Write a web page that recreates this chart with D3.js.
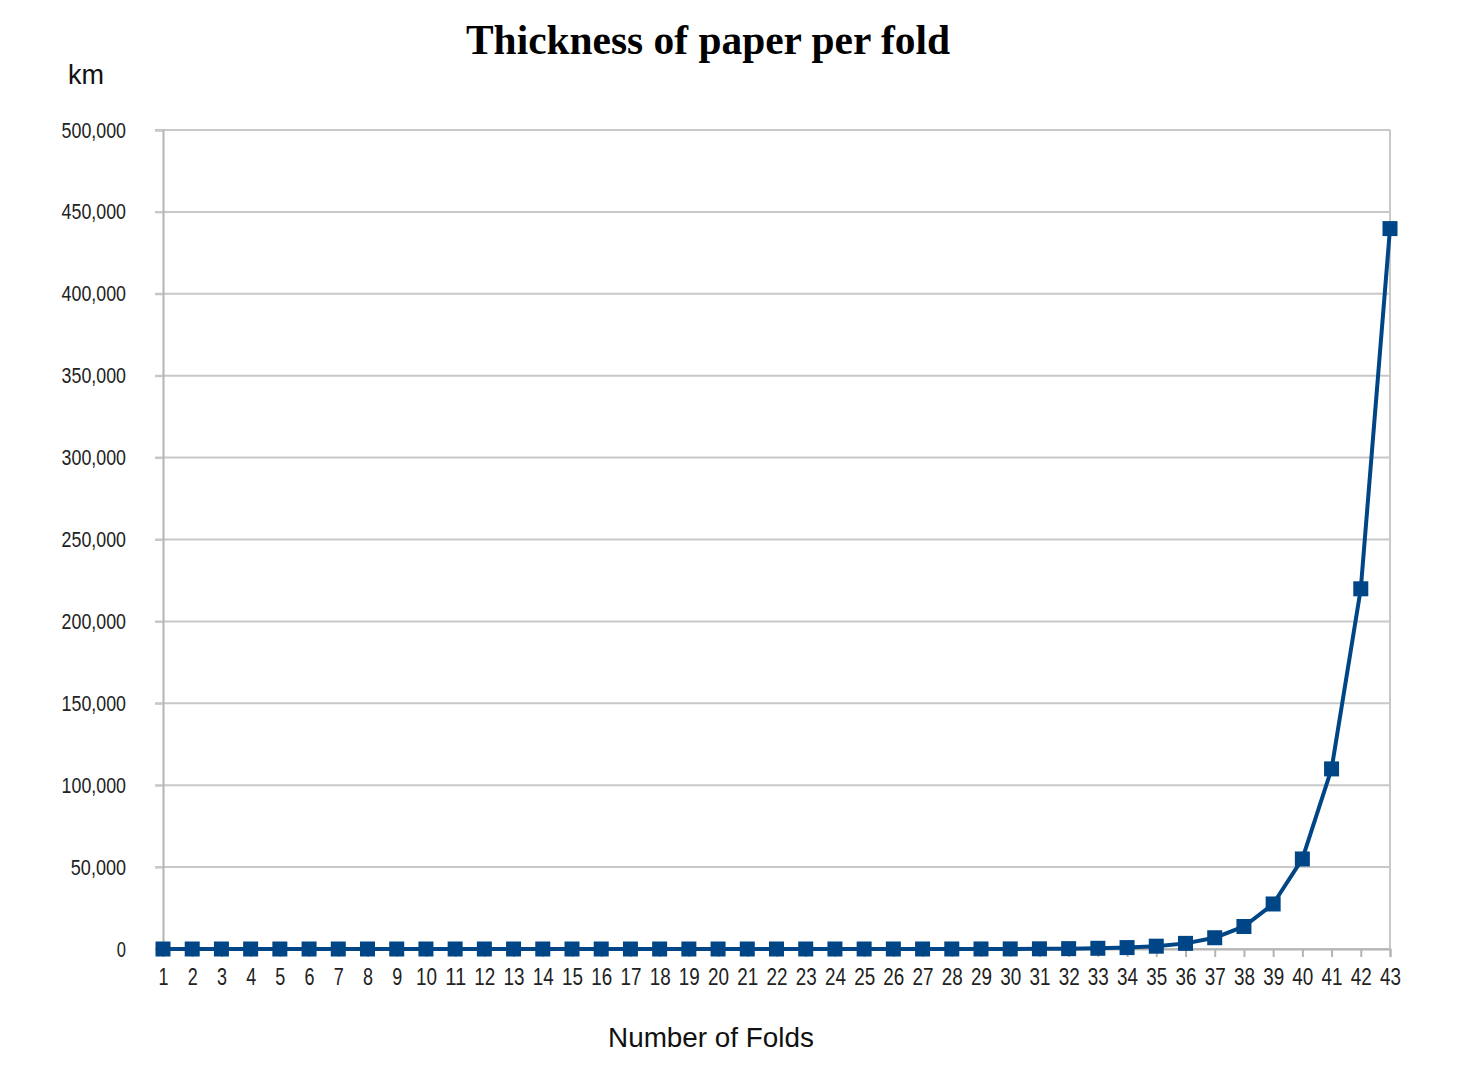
<!DOCTYPE html>
<html>
<head>
<meta charset="utf-8">
<script src="https://cdn.jsdelivr.net/npm/d3@7"></script>
<style>
  body { margin: 0; background: #fff; }
  text { font-family: "Liberation Sans", Arial, sans-serif; fill: #222; }
</style>
</head>
<body>
<div id="chart"></div>
<script>
// folds 1..43, paper thickness in km
var folds = d3.range(1, 44);
var thickness = [
  0.0000001, 0.0000002, 0.0000004, 0.0000008, 0.0000016, 0.0000032, 0.0000064,
  0.0000128, 0.0000256, 0.0000512, 0.0001024, 0.0002048, 0.0004096, 0.0008192,
  0.0016384, 0.0032768, 0.0065536, 0.0131072, 0.0262144, 0.0524288, 0.1048576,
  0.2097152, 0.4194304, 0.8388608, 1.6777216, 3.3554432, 6.7108864, 13.4217728,
  26.8435456, 53.6870912, 107.374, 214.748, 429.497, 858.993, 1717.987,
  3435.974, 6871.948, 13743.895, 27487.791, 54975.581, 109951.163, 219902.326,
  439804.651
];
var yTicks = [0, 50000, 100000, 150000, 200000, 250000, 300000, 350000, 400000, 450000, 500000];

var width = 1464, height = 1072;
var m = {left: 163, right: 1390, top: 130, bottom: 949};

var svg = d3.select("#chart").append("svg")
    .attr("width", width)
    .attr("height", height);

var x = d3.scalePoint().domain(folds).range([m.left, m.right]);
var y = d3.scaleLinear().domain([0, 500000]).range([m.bottom, m.top]);

// grid
svg.append("g").selectAll("line")
    .data(yTicks)
    .enter().append("line")
    .attr("x1", m.left - 8).attr("x2", m.right)
    .attr("y1", function(d) { return y(d); })
    .attr("y2", function(d) { return y(d); })
    .style("stroke", "#c8c8c8")
    .style("stroke-width", 2);

// right border
svg.append("line")
    .attr("x1", m.right).attr("x2", m.right)
    .attr("y1", m.top).attr("y2", m.bottom)
    .style("stroke", "#c8c8c8").style("stroke-width", 2);

// y axis
var fmt = d3.format(",");
var yAxis = svg.append("g")
    .attr("transform", "translate(" + m.left + ",0)")
    .call(d3.axisLeft(y).tickValues(yTicks).tickSize(8).tickPadding(29)
        .tickFormat(fmt));
yAxis.select(".domain").style("stroke", "#b4b4b4").style("stroke-width", 2);
yAxis.selectAll(".tick line").style("stroke", "#c8c8c8").style("stroke-width", 2);
yAxis.selectAll("text").style("font-size", "22px").style("fill", "#222")
    .attr("textLength", function(d) { return fmt(d).length * 9.2; })
    .attr("lengthAdjust", "spacingAndGlyphs");

// x axis
var xAxis = svg.append("g")
    .attr("transform", "translate(0," + m.bottom + ")")
    .call(d3.axisBottom(x).tickSize(8).tickPadding(12));
xAxis.select(".domain").style("stroke", "#b4b4b4").style("stroke-width", 2);
xAxis.selectAll(".tick line").style("stroke", "#b4b4b4").style("stroke-width", 2);
xAxis.selectAll("text").style("font-size", "23px").style("fill", "#222")
    .attr("textLength", function(d) { return d < 10 ? 10 : 21; })
    .attr("lengthAdjust", "spacingAndGlyphs");

// line + markers
var line = d3.line()
    .x(function(d, i) { return x(folds[i]); })
    .y(function(d) { return y(d); });

svg.append("path")
    .datum(thickness)
    .attr("d", line)
    .style("fill", "none")
    .style("stroke", "#004586")
    .style("stroke-width", 4);

svg.append("g").selectAll("rect")
    .data(thickness)
    .enter().append("rect")
    .attr("x", function(d, i) { return x(folds[i]) - 7.5; })
    .attr("y", function(d) { return y(d) - 7.5; })
    .attr("width", 15).attr("height", 15)
    .style("fill", "#004586");

// titles
svg.append("text")
    .attr("x", 708).attr("y", 54)
    .attr("text-anchor", "middle")
    .style("font-family", "'Liberation Serif', 'Times New Roman', serif")
    .style("font-weight", "bold")
    .style("font-size", "42px")
    .style("fill", "#000")
    .attr("textLength", 484)
    .attr("lengthAdjust", "spacingAndGlyphs")
    .text("Thickness of paper per fold");

svg.append("text")
    .attr("x", 68).attr("y", 84)
    .style("font-size", "27px")
    .style("fill", "#111")
    .text("km");

svg.append("text")
    .attr("x", 711).attr("y", 1047)
    .attr("text-anchor", "middle")
    .style("font-size", "28px")
    .style("fill", "#111")
    .attr("textLength", 206)
    .attr("lengthAdjust", "spacingAndGlyphs")
    .text("Number of Folds");
</script>
</body>
</html>
